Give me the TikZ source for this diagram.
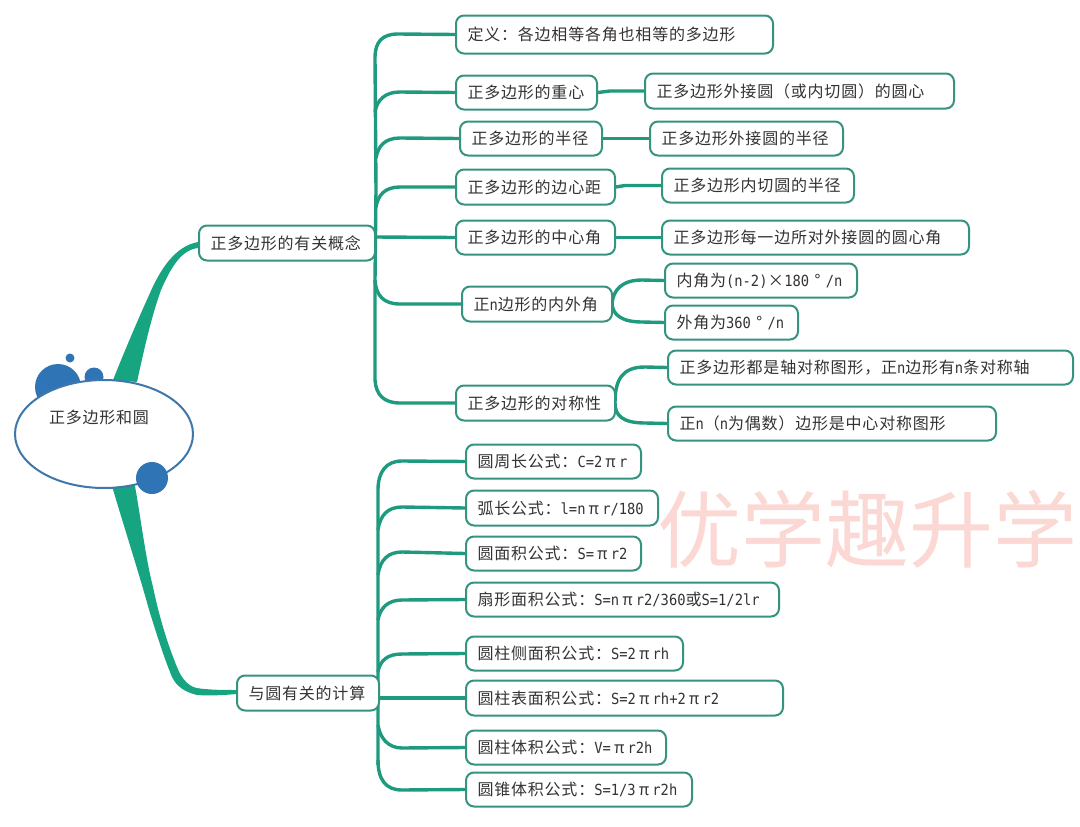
\documentclass[tikz,border=0pt]{standalone}
\usepackage{fontspec}
\usetikzlibrary{shapes.geometric,backgrounds}
\setmainfont[LetterSpace=5]{Noto Sans CJK SC}
\newfontfamily\lat[FakeStretch=0.9]{DejaVu Sans Mono}
\newfontfamily\wm{Noto Sans CJK SC}
\newcommand{\la}[1]{{\lat\fontsize{15.3}{16}\selectfont #1}}
\newcommand{\fw}[1]{\makebox[16.7pt]{#1}}
\definecolor{gline}{HTML}{1F9A7E}
\definecolor{gbox}{HTML}{35937F}
\definecolor{gmain}{HTML}{17A481}
\definecolor{blob}{HTML}{2F75B5}
\definecolor{txt}{HTML}{333333}
\definecolor{wmc}{HTML}{FBD8D3}
\tikzset{
 box/.style={draw=gbox,line width=2pt,rounded corners=8pt,fill=white,anchor=west,inner xsep=11pt,inner ysep=0pt,align=left,text=txt,font=\fontsize{16}{18}\selectfont},
 conn/.style={draw=gline,line width=3.4pt},
 ball/.style={fill=blob,draw=none}
}
\newcommand{\bx}[6]{\node[box,minimum width=#4pt-#2pt-1pt,minimum height=#5pt-#3pt-1pt,text width=#4pt-#2pt-24pt] (#1) at (#2,{(#3+#5)/2}) {#6};}
\begin{document}
\begin{tikzpicture}[x=1pt,y=-1pt]
\useasboundingbox (0,0) rectangle (1080,827);
% watermark
\node[text=wmc,font=\wm\fontsize{84}{90}\selectfont,anchor=center,inner sep=0pt] (mark) at (867,529) {优学趣升学};
% thick branches
\fill[gmain] (113,380) .. controls (127,345) and (140,315) .. (150,293) .. controls (160,270) and (175,246) .. (198,242) -- (198,248) .. controls (182,250) and (172,265) .. (161,290) .. controls (152,315) and (145,345) .. (137,382) -- cycle;
\fill[gmain] (112,486) -- (135,486) .. controls (141,520) and (146,560) .. (153,587) .. controls (160,620) and (168,645) .. (177,667) .. controls (182,680) and (190,688) .. (200,688.5) .. controls (212,690) and (225,690) .. (237,690) -- (237,694) .. controls (225,695) and (210,696) .. (197,695) .. controls (185,692) and (177,687) .. (172,677) .. controls (163,655) and (157,635) .. (150,613) .. controls (138,570) and (125,530) .. (112,486) -- cycle;
% balls
\fill[ball] (58,387) circle (23);
\fill[ball] (94,377) circle (9.5);
\fill[ball] (70,358) circle (4.5);
% central
\node[draw=blob!80!gray,line width=2pt,fill=white,ellipse,minimum width=178pt,minimum height=108pt,inner sep=0pt] (root) at (104,434) {};
\node[text=txt,font=\fontsize{16}{18}\selectfont,inner sep=0pt] (roottext) at (99,417) {正多边形和圆};
\fill[ball] (152,478) circle (16);
% boxes
\bx{a}{198}{225}{375}{261}{正多边形的有关概念}
\bx{b}{236}{675}{379}{711}{与圆有关的计算}
\bx{a1}{455}{15}{773}{54}{定义：各边相等各角也相等的多边形}
\bx{a2}{455}{75}{597}{110}{正多边形的重心}
\bx{a3}{459}{121}{602}{156}{正多边形的半径}
\bx{a4}{455}{169}{615}{205}{正多边形的边心距}
\bx{a5}{455}{220}{615}{255}{正多边形的中心角}
\bx{a6}{461}{286}{612}{322}{正\la{n}边形的内外角}
\bx{a7}{455}{385}{615}{421}{正多边形的对称性}
\bx{c2}{644}{73}{954}{109}{正多边形外接圆（或内切圆）的圆心}
\bx{c3}{649}{121}{843}{156}{正多边形外接圆的半径}
\bx{c4}{661}{168}{854}{203}{正多边形内切圆的半径}
\bx{c5}{661}{220}{969}{255}{正多边形每一边所对外接圆的圆心角}
\bx{c6a}{664}{263}{857}{298}{内角为\la{(n-2)}\fw{×}\la{180}\fw{°}\la{/n}}
\bx{c6b}{664}{305}{798}{340}{外角为\la{360}\fw{°}\la{/n}}
\bx{c7a}{667}{350}{1073}{385}{正多边形都是轴对称图形，正\la{n}边形有\la{n}条对称轴}
\bx{c7b}{667}{406}{996}{441}{正\la{n}（\la{n}为偶数）边形是中心对称图形}
\bx{d1}{465}{444}{641}{479}{圆周长公式：\la{C=2}\fw{π}\la{r}}
\bx{d2}{465}{490}{658}{526}{弧长公式：\la{l=n}\fw{π}\la{r/180}}
\bx{d3}{465}{536}{641}{571}{圆面积公式：\la{S=}\fw{π}\la{r2}}
\bx{d4}{465}{582}{779}{617}{扇形面积公式：\la{S=n}\fw{π}\la{r2/360}或\la{S=1/2lr}}
\bx{d5}{465}{636}{683}{671}{圆柱侧面积公式：\la{S=2}\fw{π}\la{rh}}
\bx{d6}{465}{680}{783}{716}{圆柱表面积公式：\la{S=2}\fw{π}\la{rh+2}\fw{π}\la{r2}}
\bx{d7}{465}{730}{666}{765}{圆柱体积公式：\la{V=}\fw{π}\la{r2h}}
\bx{d8}{465}{772}{692}{807}{圆锥体积公式：\la{S=1/3}\fw{π}\la{r2h}}
% connectors
\begin{pgfonlayer}{background}
\draw[conn] (a1.west) -- (398,34) .. controls (382,34) and (375,42) .. (375,58) -- (376,190) -- (375,280) .. controls (376,295) and (383,304) .. (400,304) -- (a6.west);
\draw[conn] (375,280) -- (375,380) .. controls (376,395) and (384,403) .. (400,403) -- (a7.west);
\draw[conn] (375,112) .. controls (377,100) and (385,92) .. (400,92) -- (a2.west);
\draw[conn] (376,158) .. controls (378,146) and (385,138) .. (400,138) -- (a3.west);
\draw[conn] (376,207) .. controls (378,195) and (385,187) .. (400,187) -- (a4.west);
\draw[conn] (375,237) -- (a5.west);
\draw[conn] (a2.east) -- (610,91) -- (c2.west);
\draw[conn] (a3.east) -- (c3.west);
\draw[conn] (a4.east) -- (625,185.5) -- (c4.west);
\draw[conn] (a5.east) -- (c5.west);
\draw[conn] (612,304) .. controls (613,290) and (622,280) .. (642,280) -- (c6a.west);
\draw[conn] (612,304) .. controls (613,315) and (622,322) .. (642,322) -- (c6b.west);
\draw[conn] (615,403) .. controls (615,380) and (622,367) .. (645,367) -- (c7a.west);
\draw[conn] (615,403) .. controls (615,415) and (622,423) .. (645,423) -- (c7b.west);
\draw[conn] (d1.west) -- (402,461) .. controls (386,461) and (378,472) .. (378,490) -- (378,765);
\draw[conn] (378,530) .. controls (380,515) and (388,507) .. (402,507) -- (d2.west);
\draw[conn] (378,575) .. controls (380,560) and (388,552) .. (402,552) -- (d3.west);
\draw[conn] (378,620) .. controls (380,608) and (388,600) .. (402,600) -- (d4.west);
\draw[conn] (378,672) .. controls (380,660) and (388,654) .. (402,654) -- (d5.west);
\draw[conn] (378,698) -- (d6.west);
\draw[conn] (378,725) .. controls (380,738) and (388,748) .. (402,748) -- (d7.west);
\draw[conn] (378,760) .. controls (378,780) and (386,790) .. (402,790) -- (d8.west);
\end{pgfonlayer}
\end{tikzpicture}
\end{document}
